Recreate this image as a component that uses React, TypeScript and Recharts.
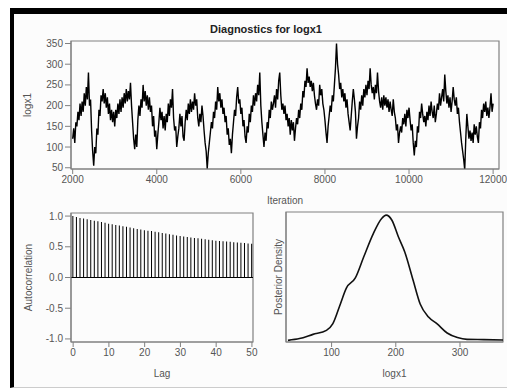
import React from "react";
import {
  LineChart,
  Line,
  ComposedChart,
  Bar,
  XAxis,
  YAxis,
  ReferenceArea,
  ReferenceLine,
} from "recharts";

/* ── data ────────────────────────────────────────────────── */
const TRACE_START = 2000;
const TRACE_STEP = 25;
// logx1 draws, one value every 25 iterations (2000 … 12000), 16 per row
const traceValues = [
  120, 145, 110, 160, 150, 185, 165, 205, 175, 210, 185, 230, 200, 245, 215, 280,
  200, 215, 140, 90, 55, 100, 85, 145, 130, 190, 175, 225, 210, 240, 205, 230,
  195, 220, 180, 205, 165, 190, 160, 185, 150, 190, 170, 205, 180, 215, 185, 220,
  195, 230, 205, 240, 210, 235, 215, 255, 200, 160, 120, 95, 130, 100, 165, 200,
  175, 215, 195, 250, 210, 235, 200, 225, 190, 220, 185, 200, 150, 175, 125, 140,
  95, 130, 160, 195, 165, 185, 145, 175, 140, 180, 160, 205, 175, 215, 195, 240,
  170, 140, 150, 100, 125, 145, 180, 150, 175, 125, 115, 160, 190, 165, 205, 180,
  215, 185, 210, 190, 230, 200, 215, 170, 150, 180, 160, 200, 175, 140, 110, 90,
  48, 85, 110, 135, 160, 145, 185, 170, 210, 190, 245, 210, 230, 195, 215, 180,
  195, 160, 175, 130, 145, 105, 120, 85, 130, 160, 190, 175, 220, 245, 205, 215,
  180, 195, 150, 165, 125, 110, 150, 135, 180, 160, 200, 185, 225, 200, 230, 210,
  250, 225, 280, 200, 160, 130, 100, 135, 115, 160, 145, 190, 170, 210, 190, 205,
  225, 195, 240, 215, 260, 280, 225, 190, 205, 180, 200, 165, 180, 150, 170, 130,
  165, 140, 160, 115, 145, 170, 155, 190, 170, 205, 190, 235, 220, 260, 245, 290,
  255, 270, 245, 260, 235, 255, 225, 205, 190, 215, 200, 250, 225, 240, 205, 190,
  165, 135, 110, 150, 175, 200, 185, 225, 210, 250, 290, 350, 300, 275, 240, 255,
  220, 240, 210, 230, 195, 215, 180, 160, 140, 175, 210, 240, 215, 185, 120, 150,
  170, 210, 190, 225, 200, 240, 220, 250, 225, 260, 240, 290, 250, 230, 245, 215,
  250, 230, 280, 235, 210, 195, 220, 190, 225, 200, 220, 195, 215, 185, 210, 190,
  175, 215, 185, 170, 140, 155, 110, 135, 150, 135, 170, 155, 180, 150, 190, 170,
  195, 165, 140, 155, 110, 80, 115, 100, 150, 135, 185, 170, 205, 180, 160, 175,
  150, 185, 165, 200, 175, 210, 185, 170, 200, 160, 180, 205, 190, 230, 200, 220,
  240, 210, 275, 235, 205, 225, 195, 220, 185, 210, 245, 215, 200, 220, 180, 195,
  160, 135, 110, 90, 70, 45, 120, 180, 150, 120, 140, 115, 135, 110, 155, 130,
  150, 125, 110, 160, 145, 190, 170, 205, 185, 210, 175, 195, 170, 195, 230, 185,
  205,
];
const iterTicks = [2000, 4000, 6000, 8000, 10000, 12000];
const traceTicks = [50, 100, 150, 200, 250, 300, 350];

// autocorrelation for lags 0 … 50
const acfValues = [
  1.0, 0.985, 0.97, 0.96, 0.95, 0.935, 0.925, 0.915, 0.905, 0.89,
  0.875, 0.865, 0.855, 0.845, 0.835, 0.825, 0.815, 0.8, 0.79, 0.78,
  0.77, 0.76, 0.755, 0.745, 0.735, 0.725, 0.715, 0.705, 0.695, 0.685,
  0.675, 0.668, 0.66, 0.652, 0.645, 0.638, 0.63, 0.623, 0.615, 0.608,
  0.6, 0.595, 0.59, 0.585, 0.58, 0.575, 0.57, 0.565, 0.56, 0.555,
  0.55,
];
const lagTicks = [0, 10, 20, 30, 40, 50];
const acfTicks = [-1, -0.5, 0, 0.5, 1];

// posterior density (relative height)
const densX = [
  32, 50, 71, 92, 102, 113, 123, 137, 150, 165, 178, 185, 194, 204,
  214, 227, 238, 251, 264, 280, 296, 311, 337, 367,
];
const densY = [
  0.013, 0.027, 0.06, 0.092, 0.145, 0.29, 0.425, 0.505, 0.67, 0.855, 0.974,
  1.0, 0.96, 0.83, 0.71, 0.487, 0.3, 0.197, 0.145, 0.071, 0.035, 0.021,
  0.019, 0.016,
];
const densTicks = [100, 200, 300];

const traceData = traceValues.map((v, i) => ({
  iter: TRACE_START + i * TRACE_STEP,
  v,
}));
const acfData = acfValues.map((a, lag) => ({ lag, a }));
const densData = densX.map((x, i) => ({ x, d: densY[i] }));

/* ── styling ─────────────────────────────────────────────── */
const FONT = "'Liberation Sans', Arial, sans-serif";
const AXIS = "#808080";
const tick = { fontSize: 10, fill: "#555", fontFamily: FONT };
const labelStyle = { fontSize: 10, fill: "#555", fontFamily: FONT };

export default function App() {
  return (
    <div
      style={{
        position: "absolute",
        left: 0,
        top: 0,
        width: 507,
        height: 388,
        background: "#fff",
        overflow: "hidden",
        fontFamily: FONT,
      }}
    >
      {/* outer frame */}
      <div
        style={{
          position: "absolute",
          left: 10,
          top: 8,
          width: 497,
          height: 380,
          boxSizing: "border-box",
          borderTop: "6px solid #000",
          borderLeft: "4px solid #000",
          borderBottom: "1px solid #ccc",
          background: "#fcfcfc",
        }}
      />

      <div
        style={{
          position: "absolute",
          left: 166,
          top: 22,
          width: 200,
          textAlign: "center",
          fontSize: 11,
          fontWeight: 700,
          color: "#222",
          lineHeight: "14px",
        }}
      >
        Diagnostics for logx1
      </div>

      {/* trace */}
      <div style={{ position: "absolute", left: 0, top: 0 }}>
        <LineChart
          width={507}
          height={210}
          data={traceData}
          margin={{ top: 41, right: 8, left: 0, bottom: 0 }}
        >
          <XAxis
            dataKey="iter"
            type="number"
            domain={[1960, 12140]}
            allowDataOverflow
            ticks={iterTicks}
            tick={tick}
            tickSize={5}
            stroke={AXIS}
            height={41}
            label={{ value: "Iteration", position: "insideBottom", offset: 6, style: labelStyle }}
          />
          <YAxis
            type="number"
            domain={[47, 356]}
            allowDataOverflow
            ticks={traceTicks}
            tick={tick}
            tickSize={6}
            stroke={AXIS}
            width={71}
            label={{
              value: "logx1",
              angle: -90,
              position: "insideLeft",
              offset: 27,
              style: { ...labelStyle, textAnchor: "middle" },
            }}
          />
          <ReferenceArea
            x1={1960}
            x2={12140}
            y1={47}
            y2={356}
            fill="none"
            stroke={AXIS}
            strokeWidth={1.2}
          />
          <Line
            type="linear"
            dataKey="v"
            stroke="#000"
            strokeWidth={1.4}
            dot={false}
            isAnimationActive={false}
          />
        </LineChart>
      </div>

      {/* autocorrelation */}
      <div style={{ position: "absolute", left: 0, top: 200 }}>
        <ComposedChart
          width={260}
          height={188}
          data={acfData}
          margin={{ top: 13, right: 7, left: 0, bottom: 0 }}
        >
          <XAxis
            dataKey="lag"
            type="number"
            domain={[-0.6, 50.3]}
            allowDataOverflow
            ticks={lagTicks}
            tick={tick}
            tickSize={5}
            stroke={AXIS}
            height={46}
            label={{ value: "Lag", position: "insideBottom", offset: 11, style: labelStyle }}
          />
          <YAxis
            type="number"
            domain={[-1.05, 1.05]}
            allowDataOverflow
            ticks={acfTicks}
            tickFormatter={(v: number) => v.toFixed(1)}
            tick={tick}
            tickSize={6}
            stroke={AXIS}
            width={71}
            label={{
              value: "Autocorrelation",
              angle: -90,
              position: "insideLeft",
              offset: 28,
              style: { ...labelStyle, textAnchor: "middle" },
            }}
          />
          <ReferenceArea
            x1={-0.6}
            x2={50.3}
            y1={-1.05}
            y2={1.05}
            fill="none"
            stroke={AXIS}
            strokeWidth={1.2}
          />
          <ReferenceLine y={0} stroke="#000" strokeWidth={1} />
          <Bar dataKey="a" fill="#000" barSize={1} isAnimationActive={false} />
        </ComposedChart>
      </div>

      {/* density */}
      <div style={{ position: "absolute", left: 260, top: 200 }}>
        <LineChart
          width={247}
          height={188}
          data={densData}
          margin={{ top: 12, right: 4, left: 0, bottom: 0 }}
        >
          <XAxis
            dataKey="x"
            type="number"
            domain={[29, 367]}
            allowDataOverflow
            ticks={densTicks}
            tick={tick}
            tickSize={5}
            stroke={AXIS}
            height={46}
            label={{ value: "logx1", position: "insideBottom", offset: 11, style: labelStyle }}
          />
          <YAxis
            type="number"
            domain={[0, 1.025]}
            allowDataOverflow
            tick={false}
            tickLine={false}
            stroke={AXIS}
            width={26}
            label={{
              value: "Posterior Density",
              angle: -90,
              position: "insideLeft",
              offset: 18,
              style: { ...labelStyle, textAnchor: "middle" },
            }}
          />
          <ReferenceArea
            x1={29}
            x2={367}
            y1={0}
            y2={1.025}
            fill="none"
            stroke={AXIS}
            strokeWidth={1.2}
          />
          <Line
            type="monotone"
            dataKey="d"
            stroke="#111"
            strokeWidth={1.6}
            dot={false}
            isAnimationActive={false}
          />
        </LineChart>
      </div>
    </div>
  );
}
